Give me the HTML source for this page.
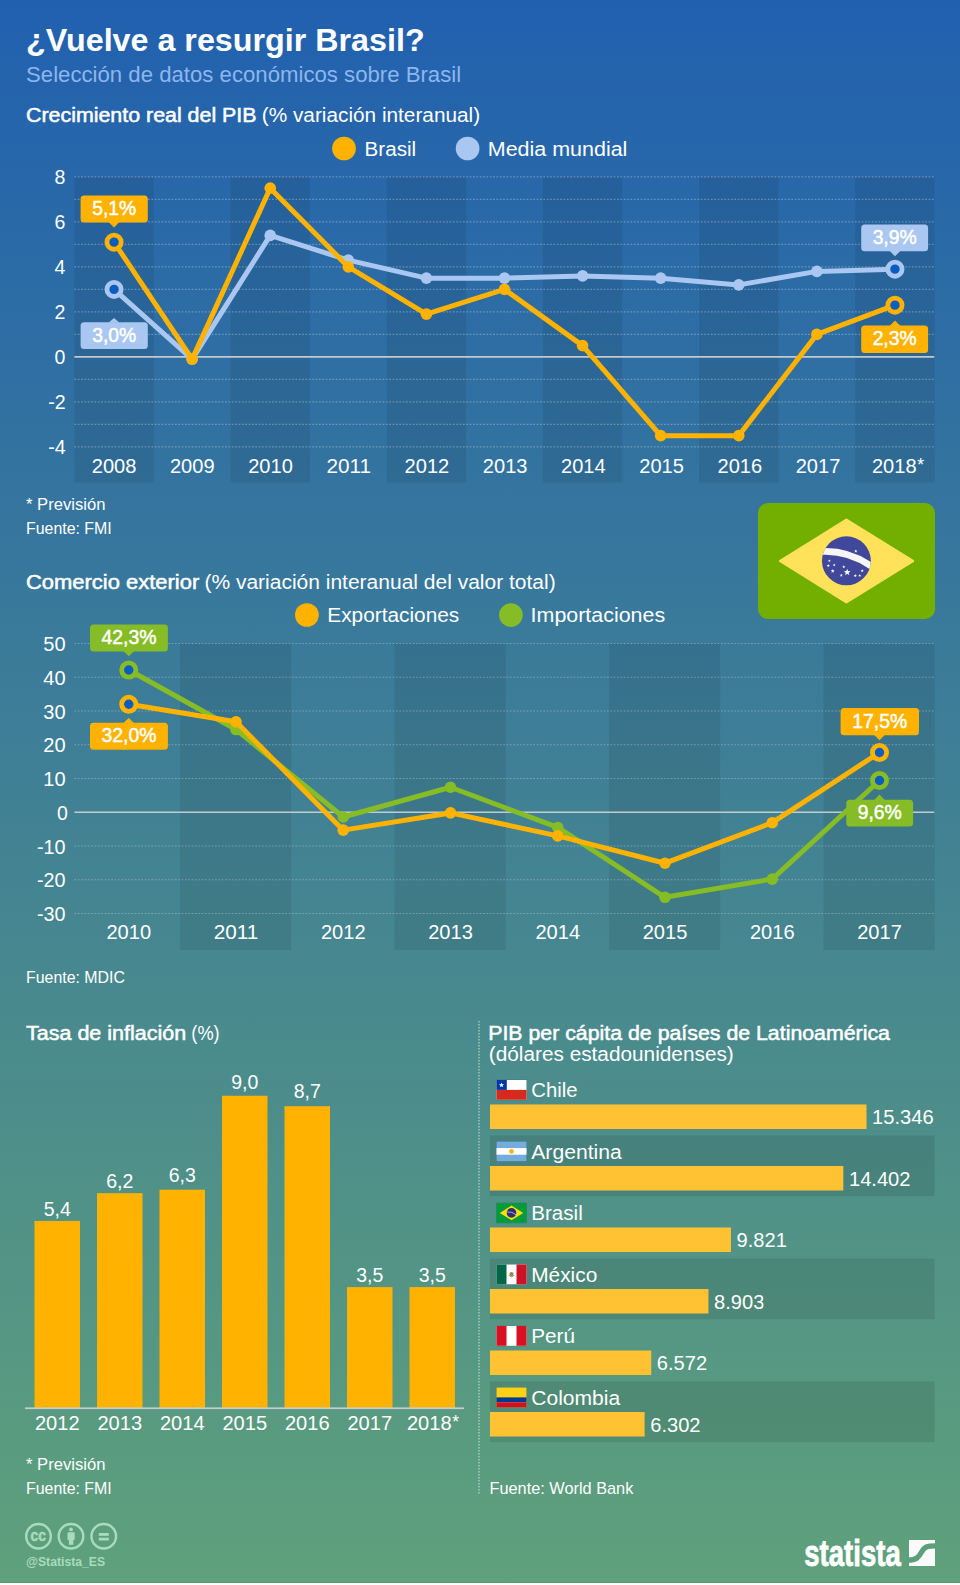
<!DOCTYPE html>
<html lang="es"><head><meta charset="utf-8"><title>¿Vuelve a resurgir Brasil?</title>
<style>
html,body{margin:0;padding:0;background:#fff}
body{width:960px;height:1585px;overflow:hidden}
svg{display:block}
text{font-family:"Liberation Sans",sans-serif}
</style></head><body>
<svg width="960" height="1585" viewBox="0 0 960 1585">
<defs>
<linearGradient id="bg" x1="0" y1="0" x2="0" y2="1">
<stop offset="0" stop-color="#2160af"/>
<stop offset="1" stop-color="#5fa17b"/>
</linearGradient>
</defs>
<rect width="960" height="1585" fill="url(#bg)"/>
<rect y="1582" width="960" height="1" fill="#559b71"/>
<rect y="1583" width="960" height="2" fill="#fff"/>

<text x="26" y="50.75" font-size="32" font-weight="700" fill="#fff" textLength="398.58" lengthAdjust="spacingAndGlyphs">¿Vuelve a resurgir Brasil?</text>
<text x="26" y="82" font-size="21.5" font-weight="400" fill="#8db6ee" textLength="435.15" lengthAdjust="spacingAndGlyphs">Selección de datos económicos sobre Brasil</text>
<text x="26" y="122" font-size="20" font-weight="400" stroke="#fff" stroke-width="0.5" fill="#fff" textLength="230.58" lengthAdjust="spacingAndGlyphs">Crecimiento real del PIB</text>
<text x="261.77" y="122" font-size="20" font-weight="400" fill="#fff" textLength="218.35" lengthAdjust="spacingAndGlyphs">(% variación interanual)</text>
<circle cx="344" cy="148.5" r="11.85" fill="#ffb200"/>
<text x="364.6" y="155.6" font-size="20" font-weight="400" fill="#fff" textLength="51.5" lengthAdjust="spacingAndGlyphs">Brasil</text>
<circle cx="467.6" cy="148.5" r="11.85" fill="#a9c7f0"/>
<text x="487.8" y="155.6" font-size="20" font-weight="400" fill="#fff" textLength="139.56" lengthAdjust="spacingAndGlyphs">Media mundial</text>
<g>
<rect x="74.35" y="176.8" width="79.4" height="305.7" fill="#000" fill-opacity="0.075"/>
<rect x="230.53" y="176.8" width="79.4" height="305.7" fill="#000" fill-opacity="0.075"/>
<rect x="386.71" y="176.8" width="79.4" height="305.7" fill="#000" fill-opacity="0.075"/>
<rect x="542.89" y="176.8" width="79.4" height="305.7" fill="#000" fill-opacity="0.075"/>
<rect x="699.07" y="176.8" width="79.4" height="305.7" fill="#000" fill-opacity="0.075"/>
<rect x="855.25" y="176.8" width="79.4" height="305.7" fill="#000" fill-opacity="0.075"/>
<line x1="74.4" y1="176.9" x2="934.3" y2="176.9" stroke="#fff" stroke-opacity="0.29" stroke-width="1.15" stroke-dasharray="1.7 1.65"/>
<line x1="74.4" y1="199.4" x2="934.3" y2="199.4" stroke="#fff" stroke-opacity="0.29" stroke-width="1.15" stroke-dasharray="1.7 1.65"/>
<line x1="74.4" y1="221.9" x2="934.3" y2="221.9" stroke="#fff" stroke-opacity="0.29" stroke-width="1.15" stroke-dasharray="1.7 1.65"/>
<line x1="74.4" y1="244.4" x2="934.3" y2="244.4" stroke="#fff" stroke-opacity="0.29" stroke-width="1.15" stroke-dasharray="1.7 1.65"/>
<line x1="74.4" y1="266.9" x2="934.3" y2="266.9" stroke="#fff" stroke-opacity="0.29" stroke-width="1.15" stroke-dasharray="1.7 1.65"/>
<line x1="74.4" y1="289.4" x2="934.3" y2="289.4" stroke="#fff" stroke-opacity="0.29" stroke-width="1.15" stroke-dasharray="1.7 1.65"/>
<line x1="74.4" y1="311.9" x2="934.3" y2="311.9" stroke="#fff" stroke-opacity="0.29" stroke-width="1.15" stroke-dasharray="1.7 1.65"/>
<line x1="74.4" y1="334.4" x2="934.3" y2="334.4" stroke="#fff" stroke-opacity="0.29" stroke-width="1.15" stroke-dasharray="1.7 1.65"/>
<line x1="74.4" y1="356.9" x2="934.3" y2="356.9" stroke="#cbcfd1" stroke-opacity="0.95" stroke-width="1.6"/>
<line x1="74.4" y1="379.4" x2="934.3" y2="379.4" stroke="#fff" stroke-opacity="0.29" stroke-width="1.15" stroke-dasharray="1.7 1.65"/>
<line x1="74.4" y1="401.9" x2="934.3" y2="401.9" stroke="#fff" stroke-opacity="0.29" stroke-width="1.15" stroke-dasharray="1.7 1.65"/>
<line x1="74.4" y1="424.4" x2="934.3" y2="424.4" stroke="#fff" stroke-opacity="0.29" stroke-width="1.15" stroke-dasharray="1.7 1.65"/>
<line x1="74.4" y1="446.9" x2="934.3" y2="446.9" stroke="#fff" stroke-opacity="0.29" stroke-width="1.15" stroke-dasharray="1.7 1.65"/>
</g>
<text x="54.45" y="184.4" font-size="19.5" font-weight="400" fill="#fff">8</text>
<text x="54.45" y="229.4" font-size="19.5" font-weight="400" fill="#fff">6</text>
<text x="54.45" y="274.4" font-size="19.5" font-weight="400" fill="#fff">4</text>
<text x="54.45" y="319.4" font-size="19.5" font-weight="400" fill="#fff">2</text>
<text x="54.45" y="364.4" font-size="19.5" font-weight="400" fill="#fff">0</text>
<text x="48.18" y="409.4" font-size="19.5" font-weight="400" fill="#fff" textLength="17.42" lengthAdjust="spacingAndGlyphs">-2</text>
<text x="48.18" y="454.4" font-size="19.5" font-weight="400" fill="#fff" textLength="17.42" lengthAdjust="spacingAndGlyphs">-4</text>
<text x="91.75" y="472.5" font-size="19.5" font-weight="400" fill="#fff" textLength="44.6" lengthAdjust="spacingAndGlyphs">2008</text>
<text x="169.97" y="472.5" font-size="19.5" font-weight="400" fill="#fff" textLength="44.6" lengthAdjust="spacingAndGlyphs">2009</text>
<text x="248.19" y="472.5" font-size="19.5" font-weight="400" fill="#fff" textLength="44.6" lengthAdjust="spacingAndGlyphs">2010</text>
<text x="326.41" y="472.5" font-size="19.5" font-weight="400" fill="#fff" textLength="44.6" lengthAdjust="spacingAndGlyphs">2011</text>
<text x="404.63" y="472.5" font-size="19.5" font-weight="400" fill="#fff" textLength="44.6" lengthAdjust="spacingAndGlyphs">2012</text>
<text x="482.85" y="472.5" font-size="19.5" font-weight="400" fill="#fff" textLength="44.6" lengthAdjust="spacingAndGlyphs">2013</text>
<text x="561.07" y="472.5" font-size="19.5" font-weight="400" fill="#fff" textLength="44.6" lengthAdjust="spacingAndGlyphs">2014</text>
<text x="639.29" y="472.5" font-size="19.5" font-weight="400" fill="#fff" textLength="44.6" lengthAdjust="spacingAndGlyphs">2015</text>
<text x="717.51" y="472.5" font-size="19.5" font-weight="400" fill="#fff" textLength="44.6" lengthAdjust="spacingAndGlyphs">2016</text>
<text x="795.73" y="472.5" font-size="19.5" font-weight="400" fill="#fff" textLength="44.6" lengthAdjust="spacingAndGlyphs">2017</text>
<text x="871.96" y="472.5" font-size="19.5" font-weight="400" fill="#fff" textLength="44.6" lengthAdjust="spacingAndGlyphs">2018</text>
<text x="917.15" y="470.7" font-size="17.5" font-weight="400" fill="#fff">*</text>
<polyline points="114.05,289.4 192.14,359.15 270.23,235.4 348.32,260.15 426.41,278.15 504.5,278.15 582.59,275.9 660.68,278.15 738.77,284.9 816.86,271.4 894.95,269.15" fill="none" stroke="#a9c7f0" stroke-width="5" stroke-linejoin="round" stroke-linecap="round"/>
<circle cx="114.05" cy="289.4" r="7.1" fill="#0b5cc0" stroke="#a9c7f0" stroke-width="4.8"/>
<circle cx="192.14" cy="359.15" r="5.8" fill="#a9c7f0"/>
<circle cx="270.23" cy="235.4" r="5.8" fill="#a9c7f0"/>
<circle cx="348.32" cy="260.15" r="5.8" fill="#a9c7f0"/>
<circle cx="426.41" cy="278.15" r="5.8" fill="#a9c7f0"/>
<circle cx="504.5" cy="278.15" r="5.8" fill="#a9c7f0"/>
<circle cx="582.59" cy="275.9" r="5.8" fill="#a9c7f0"/>
<circle cx="660.68" cy="278.15" r="5.8" fill="#a9c7f0"/>
<circle cx="738.77" cy="284.9" r="5.8" fill="#a9c7f0"/>
<circle cx="816.86" cy="271.4" r="5.8" fill="#a9c7f0"/>
<circle cx="894.95" cy="269.15" r="7.1" fill="#0b5cc0" stroke="#a9c7f0" stroke-width="4.8"/>
<polyline points="114.05,242.15 192.14,359.15 270.23,188.15 348.32,266.9 426.41,314.15 504.5,289.4 582.59,345.65 660.68,435.65 738.77,435.65 816.86,334.4 894.95,305.15" fill="none" stroke="#ffb200" stroke-width="5" stroke-linejoin="round" stroke-linecap="round"/>
<circle cx="114.05" cy="242.15" r="7.1" fill="#0b5cc0" stroke="#ffb200" stroke-width="4.8"/>
<circle cx="192.14" cy="359.15" r="5.8" fill="#ffb200"/>
<circle cx="270.23" cy="188.15" r="5.8" fill="#ffb200"/>
<circle cx="348.32" cy="266.9" r="5.8" fill="#ffb200"/>
<circle cx="426.41" cy="314.15" r="5.8" fill="#ffb200"/>
<circle cx="504.5" cy="289.4" r="5.8" fill="#ffb200"/>
<circle cx="582.59" cy="345.65" r="5.8" fill="#ffb200"/>
<circle cx="660.68" cy="435.65" r="5.8" fill="#ffb200"/>
<circle cx="738.77" cy="435.65" r="5.8" fill="#ffb200"/>
<circle cx="816.86" cy="334.4" r="5.8" fill="#ffb200"/>
<circle cx="894.95" cy="305.15" r="7.1" fill="#0b5cc0" stroke="#ffb200" stroke-width="4.8"/>
<rect x="80.6" y="195.6" width="67.2" height="27" rx="3.5" fill="#ffb200"/>
<path d="M108.5 222.1L114 227.5L119.5 222.1Z" fill="#ffb200"/>
<text x="92.18" y="215.1" font-size="20.4" font-weight="400" stroke="#fff" stroke-width="0.5" fill="#fff" textLength="44.05" lengthAdjust="spacingAndGlyphs">5,1%</text>
<rect x="80.6" y="322.3" width="67.2" height="26.7" rx="3.5" fill="#a9c7f0"/>
<path d="M108.5 322.8L114 318L119.5 322.8Z" fill="#a9c7f0"/>
<text x="92.18" y="341.65" font-size="20.4" font-weight="400" stroke="#fff" stroke-width="0.5" fill="#fff" textLength="44.05" lengthAdjust="spacingAndGlyphs">3,0%</text>
<rect x="861.2" y="224.4" width="66.9" height="26.9" rx="3.5" fill="#a9c7f0"/>
<path d="M889.5 250.8L895 256.3L900.5 250.8Z" fill="#a9c7f0"/>
<text x="872.63" y="243.85" font-size="20.4" font-weight="400" stroke="#fff" stroke-width="0.5" fill="#fff" textLength="44.05" lengthAdjust="spacingAndGlyphs">3,9%</text>
<rect x="861.2" y="325.6" width="66.9" height="27.3" rx="3.5" fill="#ffb200"/>
<path d="M889.5 326.1L895 320.6L900.5 326.1Z" fill="#ffb200"/>
<text x="872.63" y="345.25" font-size="20.4" font-weight="400" stroke="#fff" stroke-width="0.5" fill="#fff" textLength="44.05" lengthAdjust="spacingAndGlyphs">2,3%</text>
<text x="26" y="509.5" font-size="15.75" font-weight="400" fill="#fff" textLength="79.45" lengthAdjust="spacingAndGlyphs">* Previsión</text>
<text x="26" y="533.75" font-size="15.75" font-weight="400" fill="#fff" textLength="85.72" lengthAdjust="spacingAndGlyphs">Fuente: FMI</text>
<g>
<rect x="758" y="503" width="177" height="116" rx="10" fill="#73af00"/>
<path d="M780.2 561L846.4 519.8L913 561L846.4 602.2Z" fill="#ffe15a" stroke="#ffe15a" stroke-width="2.4" stroke-linejoin="round"/>
<circle cx="846.4" cy="560.8" r="24.45" fill="#41479b"/>
<clipPath id="fc"><circle cx="846.4" cy="560.8" r="24.45"/></clipPath>
<path d="M819 551.5L822 551.4Q848.5 550.3 871 566L873.5 567.7" fill="none" stroke="#f5f5f5" stroke-width="6.6" clip-path="url(#fc)"/>
<polygon points="855.8,549.5 856.22,550.62 857.42,550.67 856.48,551.42 856.8,552.58 855.8,551.91 854.8,552.58 855.12,551.42 854.18,550.67 855.38,550.62" fill="#f5f5f5"/>
<polygon points="829.4,559.3 829.77,560.29 830.83,560.34 830,560.99 830.28,562.01 829.4,561.43 828.52,562.01 828.8,560.99 827.97,560.34 829.03,560.29" fill="#f5f5f5"/>
<polygon points="828.3,564 828.72,565.12 829.92,565.17 828.98,565.92 829.3,567.08 828.3,566.41 827.3,567.08 827.62,565.92 826.68,565.17 827.88,565.12" fill="#f5f5f5"/>
<polygon points="834.2,563.5 834.57,564.49 835.63,564.54 834.8,565.19 835.08,566.21 834.2,565.63 833.32,566.21 833.6,565.19 832.77,564.54 833.83,564.49" fill="#f5f5f5"/>
<polygon points="832.7,568.9 833.22,570.29 834.7,570.35 833.54,571.27 833.93,572.7 832.7,571.88 831.47,572.7 831.86,571.27 830.7,570.35 832.18,570.29" fill="#f5f5f5"/>
<polygon points="843.8,565.1 844.22,566.22 845.42,566.27 844.48,567.02 844.8,568.18 843.8,567.51 842.8,568.18 843.12,567.02 842.18,566.27 843.38,566.22" fill="#f5f5f5"/>
<polygon points="847.2,568.7 848.09,571.08 850.62,571.19 848.64,572.77 849.32,575.21 847.2,573.81 845.08,575.21 845.76,572.77 843.78,571.19 846.31,571.08" fill="#f5f5f5"/>
<polygon points="841.3,573.7 841.72,574.82 842.92,574.87 841.98,575.62 842.3,576.78 841.3,576.11 840.3,576.78 840.62,575.62 839.68,574.87 840.88,574.82" fill="#f5f5f5"/>
<polygon points="855.3,574 855.72,575.12 856.92,575.17 855.98,575.92 856.3,577.08 855.3,576.41 854.3,577.08 854.62,575.92 853.68,575.17 854.88,575.12" fill="#f5f5f5"/>
<polygon points="859.7,574 860.07,574.99 861.13,575.04 860.3,575.69 860.58,576.71 859.7,576.13 858.82,576.71 859.1,575.69 858.27,575.04 859.33,574.99" fill="#f5f5f5"/>
<polygon points="862.2,569.1 862.62,570.22 863.82,570.27 862.88,571.02 863.2,572.18 862.2,571.51 861.2,572.18 861.52,571.02 860.58,570.27 861.78,570.22" fill="#f5f5f5"/>
</g>
<text x="26" y="588.75" font-size="20" font-weight="400" stroke="#fff" stroke-width="0.5" fill="#fff" textLength="173.21" lengthAdjust="spacingAndGlyphs">Comercio exterior</text>
<text x="204.41" y="588.75" font-size="20" font-weight="400" fill="#fff" textLength="351.3" lengthAdjust="spacingAndGlyphs">(% variación interanual del valor total)</text>
<circle cx="306.9" cy="615" r="11.85" fill="#ffb200"/>
<text x="327.3" y="622.1" font-size="20" font-weight="400" fill="#fff" textLength="131.98" lengthAdjust="spacingAndGlyphs">Exportaciones</text>
<circle cx="510.9" cy="615.1" r="11.85" fill="#86bc25"/>
<text x="530.6" y="622.2" font-size="20" font-weight="400" fill="#fff" textLength="134.56" lengthAdjust="spacingAndGlyphs">Importaciones</text>
<g>
<rect x="180" y="643.5" width="111.2" height="306.5" fill="#000" fill-opacity="0.075"/>
<rect x="394.5" y="643.5" width="111.2" height="306.5" fill="#000" fill-opacity="0.075"/>
<rect x="609" y="643.5" width="111.2" height="306.5" fill="#000" fill-opacity="0.075"/>
<rect x="823.5" y="643.5" width="111.2" height="306.5" fill="#000" fill-opacity="0.075"/>
<line x1="74.4" y1="643.5" x2="934.3" y2="643.5" stroke="#fff" stroke-opacity="0.29" stroke-width="1.15" stroke-dasharray="1.7 1.65"/>
<line x1="74.4" y1="677.25" x2="934.3" y2="677.25" stroke="#fff" stroke-opacity="0.29" stroke-width="1.15" stroke-dasharray="1.7 1.65"/>
<line x1="74.4" y1="711" x2="934.3" y2="711" stroke="#fff" stroke-opacity="0.29" stroke-width="1.15" stroke-dasharray="1.7 1.65"/>
<line x1="74.4" y1="744.75" x2="934.3" y2="744.75" stroke="#fff" stroke-opacity="0.29" stroke-width="1.15" stroke-dasharray="1.7 1.65"/>
<line x1="74.4" y1="778.5" x2="934.3" y2="778.5" stroke="#fff" stroke-opacity="0.29" stroke-width="1.15" stroke-dasharray="1.7 1.65"/>
<line x1="74.4" y1="812.25" x2="934.3" y2="812.25" stroke="#cbcfd1" stroke-opacity="0.95" stroke-width="1.6"/>
<line x1="74.4" y1="846" x2="934.3" y2="846" stroke="#fff" stroke-opacity="0.29" stroke-width="1.15" stroke-dasharray="1.7 1.65"/>
<line x1="74.4" y1="879.75" x2="934.3" y2="879.75" stroke="#fff" stroke-opacity="0.29" stroke-width="1.15" stroke-dasharray="1.7 1.65"/>
<line x1="74.4" y1="913.5" x2="934.3" y2="913.5" stroke="#fff" stroke-opacity="0.29" stroke-width="1.15" stroke-dasharray="1.7 1.65"/>
</g>
<text x="43.3" y="651" font-size="19.5" font-weight="400" fill="#fff" textLength="22.3" lengthAdjust="spacingAndGlyphs">50</text>
<text x="43.3" y="684.75" font-size="19.5" font-weight="400" fill="#fff" textLength="22.3" lengthAdjust="spacingAndGlyphs">40</text>
<text x="43.3" y="718.5" font-size="19.5" font-weight="400" fill="#fff" textLength="22.3" lengthAdjust="spacingAndGlyphs">30</text>
<text x="43.3" y="752.25" font-size="19.5" font-weight="400" fill="#fff" textLength="22.3" lengthAdjust="spacingAndGlyphs">20</text>
<text x="43.3" y="786" font-size="19.5" font-weight="400" fill="#fff" textLength="22.3" lengthAdjust="spacingAndGlyphs">10</text>
<text x="57.05" y="819.75" font-size="19.5" font-weight="400" fill="#fff">0</text>
<text x="37.03" y="853.5" font-size="19.5" font-weight="400" fill="#fff" textLength="28.57" lengthAdjust="spacingAndGlyphs">-10</text>
<text x="37.03" y="887.25" font-size="19.5" font-weight="400" fill="#fff" textLength="28.57" lengthAdjust="spacingAndGlyphs">-20</text>
<text x="37.03" y="921" font-size="19.5" font-weight="400" fill="#fff" textLength="28.57" lengthAdjust="spacingAndGlyphs">-30</text>
<text x="106.45" y="939" font-size="19.5" font-weight="400" fill="#fff" textLength="44.6" lengthAdjust="spacingAndGlyphs">2010</text>
<text x="213.7" y="939" font-size="19.5" font-weight="400" fill="#fff" textLength="44.6" lengthAdjust="spacingAndGlyphs">2011</text>
<text x="320.95" y="939" font-size="19.5" font-weight="400" fill="#fff" textLength="44.6" lengthAdjust="spacingAndGlyphs">2012</text>
<text x="428.2" y="939" font-size="19.5" font-weight="400" fill="#fff" textLength="44.6" lengthAdjust="spacingAndGlyphs">2013</text>
<text x="535.45" y="939" font-size="19.5" font-weight="400" fill="#fff" textLength="44.6" lengthAdjust="spacingAndGlyphs">2014</text>
<text x="642.7" y="939" font-size="19.5" font-weight="400" fill="#fff" textLength="44.6" lengthAdjust="spacingAndGlyphs">2015</text>
<text x="749.95" y="939" font-size="19.5" font-weight="400" fill="#fff" textLength="44.6" lengthAdjust="spacingAndGlyphs">2016</text>
<text x="857.2" y="939" font-size="19.5" font-weight="400" fill="#fff" textLength="44.6" lengthAdjust="spacingAndGlyphs">2017</text>
<polyline points="128.75,669.99 236,729.56 343.25,816.98 450.5,787.27 557.75,827.44 665,897.3 772.25,879.08 879.5,780.52" fill="none" stroke="#86bc25" stroke-width="5" stroke-linejoin="round" stroke-linecap="round"/>
<circle cx="128.75" cy="669.99" r="7.1" fill="#0b5cc0" stroke="#86bc25" stroke-width="4.8"/>
<circle cx="236" cy="729.56" r="5.8" fill="#86bc25"/>
<circle cx="343.25" cy="816.98" r="5.8" fill="#86bc25"/>
<circle cx="450.5" cy="787.27" r="5.8" fill="#86bc25"/>
<circle cx="557.75" cy="827.44" r="5.8" fill="#86bc25"/>
<circle cx="665" cy="897.3" r="5.8" fill="#86bc25"/>
<circle cx="772.25" cy="879.08" r="5.8" fill="#86bc25"/>
<circle cx="879.5" cy="780.52" r="7.1" fill="#0b5cc0" stroke="#86bc25" stroke-width="4.8"/>
<polyline points="128.75,704.25 236,721.8 343.25,830.14 450.5,812.92 557.75,835.88 665,863.21 772.25,822.71 879.5,752.51" fill="none" stroke="#ffb200" stroke-width="5" stroke-linejoin="round" stroke-linecap="round"/>
<circle cx="128.75" cy="704.25" r="7.1" fill="#0b5cc0" stroke="#ffb200" stroke-width="4.8"/>
<circle cx="236" cy="721.8" r="5.8" fill="#ffb200"/>
<circle cx="343.25" cy="830.14" r="5.8" fill="#ffb200"/>
<circle cx="450.5" cy="812.92" r="5.8" fill="#ffb200"/>
<circle cx="557.75" cy="835.88" r="5.8" fill="#ffb200"/>
<circle cx="665" cy="863.21" r="5.8" fill="#ffb200"/>
<circle cx="772.25" cy="822.71" r="5.8" fill="#ffb200"/>
<circle cx="879.5" cy="752.51" r="7.1" fill="#0b5cc0" stroke="#ffb200" stroke-width="4.8"/>
<rect x="90" y="624.4" width="77.9" height="27" rx="3.5" fill="#86bc25"/>
<path d="M123.25 650.9L128.75 656.2L134.25 650.9Z" fill="#86bc25"/>
<text x="101.39" y="643.9" font-size="20.4" font-weight="400" stroke="#fff" stroke-width="0.5" fill="#fff" textLength="55.12" lengthAdjust="spacingAndGlyphs">42,3%</text>
<rect x="90" y="722.8" width="77.9" height="27" rx="3.5" fill="#ffb200"/>
<path d="M123.25 723.3L128.75 718L134.25 723.3Z" fill="#ffb200"/>
<text x="101.39" y="742.3" font-size="20.4" font-weight="400" stroke="#fff" stroke-width="0.5" fill="#fff" textLength="55.12" lengthAdjust="spacingAndGlyphs">32,0%</text>
<rect x="840.6" y="708.1" width="78.4" height="27.2" rx="3.5" fill="#ffb200"/>
<path d="M874 734.8L879.5 740.3L885 734.8Z" fill="#ffb200"/>
<text x="852.24" y="727.7" font-size="20.4" font-weight="400" stroke="#fff" stroke-width="0.5" fill="#fff" textLength="55.12" lengthAdjust="spacingAndGlyphs">17,5%</text>
<rect x="846.3" y="799.8" width="66.8" height="26.7" rx="3.5" fill="#86bc25"/>
<path d="M874 800.3L879.5 794.6L885 800.3Z" fill="#86bc25"/>
<text x="857.68" y="819.15" font-size="20.4" font-weight="400" stroke="#fff" stroke-width="0.5" fill="#fff" textLength="44.05" lengthAdjust="spacingAndGlyphs">9,6%</text>
<text x="26" y="983.3" font-size="15.75" font-weight="400" fill="#fff" textLength="99.01" lengthAdjust="spacingAndGlyphs">Fuente: MDIC</text>
<text x="26" y="1039.5" font-size="20" font-weight="400" stroke="#fff" stroke-width="0.5" fill="#fff" textLength="160.14" lengthAdjust="spacingAndGlyphs">Tasa de inflación</text>
<text x="191.33" y="1039.5" font-size="20" font-weight="400" fill="#fff" textLength="28.3" lengthAdjust="spacingAndGlyphs">(%)</text>
<rect x="34.5" y="1221" width="45.5" height="187.27" fill="#ffb200"/>
<text x="43.71" y="1215.5" font-size="19.5" font-weight="400" fill="#fff" textLength="27.08" lengthAdjust="spacingAndGlyphs">5,4</text>
<text x="34.95" y="1430" font-size="19.5" font-weight="400" fill="#fff" textLength="44.6" lengthAdjust="spacingAndGlyphs">2012</text>
<rect x="97" y="1193.17" width="45.5" height="215.1" fill="#ffb200"/>
<text x="106.21" y="1187.5" font-size="19.5" font-weight="400" fill="#fff" textLength="27.08" lengthAdjust="spacingAndGlyphs">6,2</text>
<text x="97.45" y="1430" font-size="19.5" font-weight="400" fill="#fff" textLength="44.6" lengthAdjust="spacingAndGlyphs">2013</text>
<rect x="159.5" y="1189.69" width="45.5" height="218.58" fill="#ffb200"/>
<text x="168.71" y="1182" font-size="19.5" font-weight="400" fill="#fff" textLength="27.08" lengthAdjust="spacingAndGlyphs">6,3</text>
<text x="159.95" y="1430" font-size="19.5" font-weight="400" fill="#fff" textLength="44.6" lengthAdjust="spacingAndGlyphs">2014</text>
<rect x="222" y="1095.76" width="45.5" height="312.51" fill="#ffb200"/>
<text x="231.21" y="1088.9" font-size="19.5" font-weight="400" fill="#fff" textLength="27.08" lengthAdjust="spacingAndGlyphs">9,0</text>
<text x="222.45" y="1430" font-size="19.5" font-weight="400" fill="#fff" textLength="44.6" lengthAdjust="spacingAndGlyphs">2015</text>
<rect x="284.5" y="1106.2" width="45.5" height="302.07" fill="#ffb200"/>
<text x="293.71" y="1098.3" font-size="19.5" font-weight="400" fill="#fff" textLength="27.08" lengthAdjust="spacingAndGlyphs">8,7</text>
<text x="284.95" y="1430" font-size="19.5" font-weight="400" fill="#fff" textLength="44.6" lengthAdjust="spacingAndGlyphs">2016</text>
<rect x="347" y="1287.1" width="45.5" height="121.17" fill="#ffb200"/>
<text x="356.21" y="1281.5" font-size="19.5" font-weight="400" fill="#fff" textLength="27.08" lengthAdjust="spacingAndGlyphs">3,5</text>
<text x="347.45" y="1430" font-size="19.5" font-weight="400" fill="#fff" textLength="44.6" lengthAdjust="spacingAndGlyphs">2017</text>
<rect x="409.5" y="1287.1" width="45.5" height="121.17" fill="#ffb200"/>
<text x="418.71" y="1281.5" font-size="19.5" font-weight="400" fill="#fff" textLength="27.08" lengthAdjust="spacingAndGlyphs">3,5</text>
<text x="406.95" y="1430" font-size="19.5" font-weight="400" fill="#fff" textLength="44.6" lengthAdjust="spacingAndGlyphs">2018</text>
<text x="452.15" y="1428.2" font-size="17.5" font-weight="400" fill="#fff">*</text>
<rect x="25" y="1407.4" width="439" height="1.7" fill="#c4cfcd"/>
<text x="26" y="1469.5" font-size="15.75" font-weight="400" fill="#fff" textLength="79.45" lengthAdjust="spacingAndGlyphs">* Previsión</text>
<text x="26" y="1493.75" font-size="15.75" font-weight="400" fill="#fff" textLength="85.72" lengthAdjust="spacingAndGlyphs">Fuente: FMI</text>
<line x1="479" y1="1021" x2="479" y2="1494" stroke="#fff" stroke-opacity="0.36" stroke-width="2" stroke-dasharray="1.6 1.4"/>
<text x="488.2" y="1039.5" font-size="20" font-weight="400" stroke="#fff" stroke-width="0.5" fill="#fff" textLength="401.74" lengthAdjust="spacingAndGlyphs">PIB per cápita de países de Latinoamérica</text>
<text x="488.75" y="1061.25" font-size="20" font-weight="400" fill="#fff" textLength="245.02" lengthAdjust="spacingAndGlyphs">(dólares estadounidenses)</text>
<g transform="translate(496.5 1080)">
<rect x="-0.5" y="-0.5" width="31" height="20.8" fill="#000" fill-opacity="0.12"/>
<rect width="30" height="19.8" fill="#fff"/><rect y="9.9" width="30" height="9.9" fill="#d52b1e"/><rect width="10.3" height="9.9" fill="#0039a6"/>
<polygon points="5,2.4 5.67,4.18 7.57,4.27 6.08,5.45 6.59,7.28 5,6.23 3.41,7.28 3.92,5.45 2.43,4.27 4.33,4.18" fill="#fff"/>
</g>
<text x="531.25" y="1097" font-size="20" font-weight="400" fill="#fff" textLength="46.23" lengthAdjust="spacingAndGlyphs">Chile</text>
<rect x="490" y="1104.5" width="376.5" height="24.5" fill="#ffc233"/>
<text x="872.1" y="1124.25" font-size="19.7" font-weight="400" fill="#fff" textLength="61.56" lengthAdjust="spacingAndGlyphs">15.346</text>
<rect x="490" y="1135.5" width="444.5" height="60.7" fill="#000" fill-opacity="0.095"/>
<g transform="translate(496.5 1141.5)">
<rect x="-0.5" y="-0.5" width="31" height="20.8" fill="#000" fill-opacity="0.12"/>
<rect width="30" height="19.8" fill="#74acdf"/><rect y="6.6000000000000005" width="30" height="6.6000000000000005" fill="#fff"/><circle cx="15.0" cy="9.9" r="2.3" fill="#f6b40e"/>
</g>
<text x="531.25" y="1158.5" font-size="20" font-weight="400" fill="#fff" textLength="90.6" lengthAdjust="spacingAndGlyphs">Argentina</text>
<rect x="490" y="1166" width="353.34" height="24.5" fill="#ffc233"/>
<text x="848.94" y="1185.75" font-size="19.7" font-weight="400" fill="#fff" textLength="61.56" lengthAdjust="spacingAndGlyphs">14.402</text>
<g transform="translate(496.5 1203)">
<rect x="-0.5" y="-0.5" width="31" height="20.8" fill="#000" fill-opacity="0.12"/>
<rect width="30" height="19.8" fill="#009b3a"/><path d="M3.3 9.9L15.0 2.6L26.7 9.9L15.0 17.2Z" fill="#fedf00"/><circle cx="15.0" cy="9.9" r="4.8" fill="#2b2a80"/><path d="M10.6 9.0Q15.5 8.2 19.6 11.8" stroke="#c9cbe8" stroke-width="0.8" fill="none"/>
</g>
<text x="531.25" y="1220" font-size="20" font-weight="400" fill="#fff" textLength="51.5" lengthAdjust="spacingAndGlyphs">Brasil</text>
<rect x="490" y="1227.5" width="240.95" height="24.5" fill="#ffc233"/>
<text x="736.55" y="1247.25" font-size="19.7" font-weight="400" fill="#fff" textLength="50.3" lengthAdjust="spacingAndGlyphs">9.821</text>
<rect x="490" y="1258.5" width="444.5" height="60.7" fill="#000" fill-opacity="0.095"/>
<g transform="translate(496.5 1264.5)">
<rect x="-0.5" y="-0.5" width="31" height="20.8" fill="#000" fill-opacity="0.12"/>
<rect width="30" height="19.8" fill="#fff"/><rect width="10.0" height="19.8" fill="#006847"/><rect x="20.0" width="10.0" height="19.8" fill="#ce1126"/><circle cx="15.0" cy="9.6" r="2.1" fill="#a8804e"/><path d="M12.4 10.5Q15.0 14.100000000000001 17.6 10.5" stroke="#5f9a5a" stroke-width="0.9" fill="none"/>
</g>
<text x="531.25" y="1281.5" font-size="20" font-weight="400" fill="#fff" textLength="66.02" lengthAdjust="spacingAndGlyphs">México</text>
<rect x="490" y="1289" width="218.43" height="24.5" fill="#ffc233"/>
<text x="714.03" y="1308.75" font-size="19.7" font-weight="400" fill="#fff" textLength="50.3" lengthAdjust="spacingAndGlyphs">8.903</text>
<g transform="translate(496.5 1326)">
<rect x="-0.5" y="-0.5" width="31" height="20.8" fill="#000" fill-opacity="0.12"/>
<rect width="30" height="19.8" fill="#fff"/><rect width="10.0" height="19.8" fill="#d91023"/><rect x="20.0" width="10.0" height="19.8" fill="#d91023"/>
</g>
<text x="531.25" y="1343" font-size="20" font-weight="400" fill="#fff" textLength="43.7" lengthAdjust="spacingAndGlyphs">Perú</text>
<rect x="490" y="1350.5" width="161.24" height="24.5" fill="#ffc233"/>
<text x="656.84" y="1370.25" font-size="19.7" font-weight="400" fill="#fff" textLength="50.3" lengthAdjust="spacingAndGlyphs">6.572</text>
<rect x="490" y="1381.5" width="444.5" height="60.7" fill="#000" fill-opacity="0.095"/>
<g transform="translate(496.5 1387.5)">
<rect x="-0.5" y="-0.5" width="31" height="20.8" fill="#000" fill-opacity="0.12"/>
<rect width="30" height="19.8" fill="#fcd116"/><rect y="9.9" width="30" height="4.95" fill="#003893"/><rect y="14.850000000000001" width="30" height="4.95" fill="#ce1126"/>
</g>
<text x="531.25" y="1404.5" font-size="20" font-weight="400" fill="#fff" textLength="88.88" lengthAdjust="spacingAndGlyphs">Colombia</text>
<rect x="490" y="1412" width="154.61" height="24.5" fill="#ffc233"/>
<text x="650.21" y="1431.75" font-size="19.7" font-weight="400" fill="#fff" textLength="50.3" lengthAdjust="spacingAndGlyphs">6.302</text>
<text x="489.5" y="1493.75" font-size="15.75" font-weight="400" fill="#fff" textLength="143.81" lengthAdjust="spacingAndGlyphs">Fuente: World Bank</text>
<circle cx="38.5" cy="1536.25" r="12.3" fill="none" stroke="#a8dcbc" stroke-width="2.4"/>
<circle cx="71" cy="1536.25" r="12.3" fill="none" stroke="#a8dcbc" stroke-width="2.4"/>
<circle cx="103.75" cy="1536.25" r="12.3" fill="none" stroke="#a8dcbc" stroke-width="2.4"/>
<text x="30.6" y="1540.7" font-size="16" font-weight="700" fill="#a8dcbc" stroke="#a8dcbc" stroke-width="0.5" textLength="15.4" lengthAdjust="spacingAndGlyphs">cc</text>
<circle cx="71" cy="1529.4" r="1.9" fill="#a8dcbc"/><rect x="67.5" y="1532.2" width="7.2" height="7.8" rx="0.8" fill="#a8dcbc"/><rect x="68.9" y="1538" width="4.4" height="6.8" fill="#a8dcbc"/>
<rect x="98.8" y="1533" width="10" height="2.8" fill="#a8dcbc"/><rect x="98.8" y="1537.7" width="10" height="2.8" fill="#a8dcbc"/>
<text x="26" y="1565.6" font-size="12.6" font-weight="700" fill="#a8dcbc" textLength="79.16" lengthAdjust="spacingAndGlyphs">@Statista_ES</text>
<text x="804.3" y="1565.7" font-size="37" font-weight="700" fill="#fff" stroke="#fff" stroke-width="0.8" textLength="96.4" lengthAdjust="spacingAndGlyphs">statista</text>
<g transform="translate(909 1540)">
<rect width="26" height="26" fill="#fafafa"/>
<path d="M-1 20.2C7.5 20.2 9.8 17 12.6 12C15.5 7 17.5 5.8 27 5.8" fill="none" stroke="#5d9f7b" stroke-width="5.3"/>
</g>
</svg></body></html>
